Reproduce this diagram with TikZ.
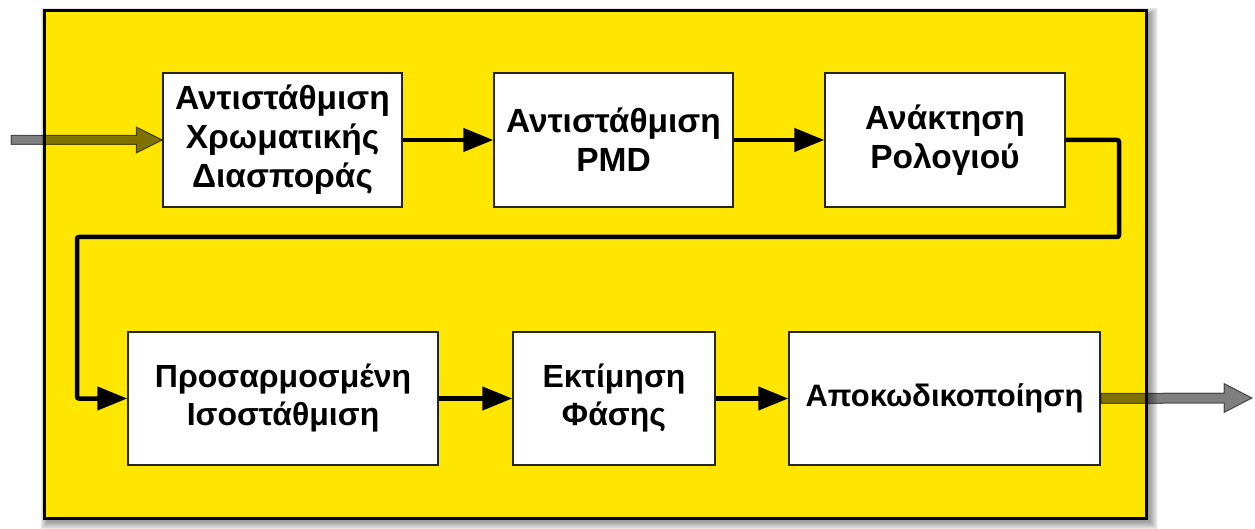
\documentclass[tikz,border=0pt]{standalone}
\usepackage{fontspec}
\setmainfont{Liberation Sans}
\usetikzlibrary{arrows.meta,calc}
\definecolor{frameyellow}{HTML}{FFE600}
\tikzset{
  frame/.style={draw=black, line width=3pt, fill=frameyellow, inner sep=0pt},
  stepbox/.style={draw=black!85, line width=1.5pt, fill=white, inner sep=0pt, align=center,
    font=\fontsize{33.5}{39}\selectfont\bfseries},
  lowtext/.style={font=\fontsize{32}{38}\selectfont\bfseries},
  flow/.style={line width=4.5pt, rounded corners=2pt, -{Triangle[length=30pt,width=23pt]}},
  blockarrow/.style={fill=black, fill opacity=0.5, draw=black, draw opacity=0.6, line width=1pt, line join=miter}
}
\begin{document}
\begin{tikzpicture}[x=1pt,y=-1pt]
\useasboundingbox (0,0) rectangle (1255,529);
% shadow
\foreach \i in {0,...,8}{
  \fill[black, opacity=0.05] (44+3-\i*0.8,11+3-\i*0.8) rectangle (1146+4+\i,518+4+\i);
}
\node[frame, minimum width=1102pt, minimum height=507pt] (frame) at (595,264.5) {};

\node[stepbox, minimum width=239pt, minimum height=134pt] (b1) at (282.5,140) {Αντιστάθμιση\\Χρωματικής\\Διασποράς};
\node[stepbox, minimum width=239pt, minimum height=134pt] (b2) at (613.5,140) {Αντιστάθμιση\\PMD};
\node[stepbox, minimum width=240pt, minimum height=134pt] (b3) at (945,140) {Ανάκτηση\\Ρολογιού};
\node[stepbox, lowtext, minimum width=310pt, minimum height=133pt] (b4) at (283,398.5) {Προσαρμοσμένη\\Ισοστάθμιση};
\node[stepbox, lowtext, minimum width=202pt, minimum height=133pt] (b5) at (614,398.5) {Εκτίμηση\\Φάσης};
\node[stepbox, lowtext, font=\fontsize{31}{37}\selectfont\bfseries, minimum width=311pt, minimum height=133pt] (b6) at (944.5,398.5) {Αποκωδικοποίηση};

\draw[flow] (b1.east) -- (b2.west);
\draw[flow] (b2.east) -- (b3.west);
\coordinate (r1) at (1119,237);
\coordinate (l1) at (77,237);
\draw[flow] (b3.east) -| (r1) -- (l1) |- (b4.west);
\draw[flow] (b4.east) -- (b5.west);
\draw[flow] (b5.east) -- (b6.west);

% input block arrow
\coordinate (inS) at (11,140);
\filldraw[blockarrow] ($(inS)+(0,-4.5)$) -- ($(b1.west)+(-26,-4.5)$) -- ($(b1.west)+(-26,-13)$) -- (b1.west)
  -- ($(b1.west)+(-26,13)$) -- ($(b1.west)+(-26,4.5)$) -- ($(inS)+(0,4.5)$) -- cycle;
% output block arrow
\coordinate (outE) at (1252,398);
\filldraw[blockarrow] ($(b6.east)+(0,-5)$) -- ($(outE)+(-28,-5)$) -- ($(outE)+(-28,-14.5)$) -- (outE)
  -- ($(outE)+(-28,14.5)$) -- ($(outE)+(-28,5)$) -- ($(b6.east)+(0,5)$) -- cycle;
\end{tikzpicture}
\end{document}
